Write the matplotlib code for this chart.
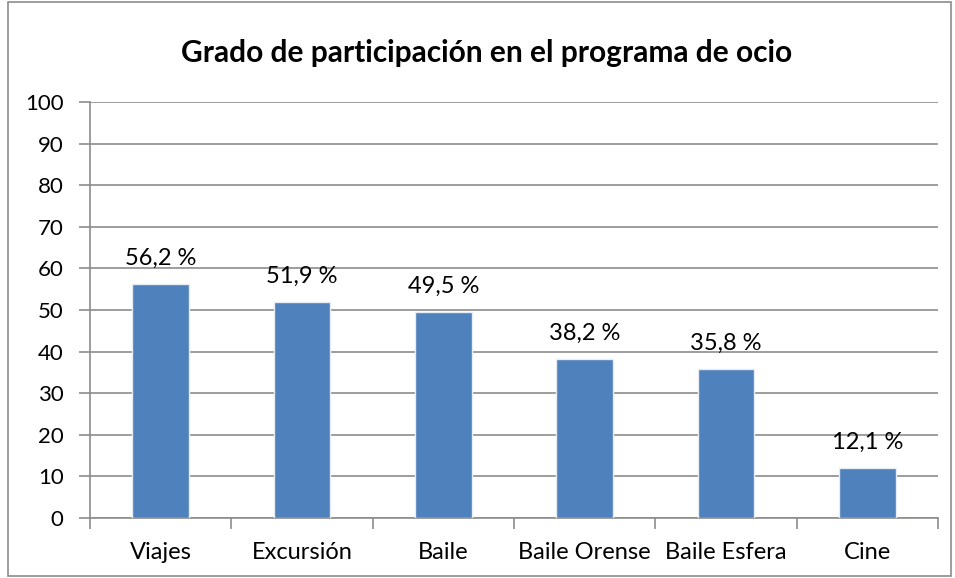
import matplotlib
matplotlib.use("Agg")
import matplotlib.pyplot as plt
from matplotlib.patches import Rectangle

categories = ["Viajes", "Excursión", "Baile", "Baile Orense", "Baile Esfera", "Cine"]
values = [56.2, 51.9, 49.5, 38.2, 35.8, 12.1]
labels = ["56,2 %", "51,9 %", "49,5 %", "38,2 %", "35,8 %", "12,1 %"]
yticks = list(range(0, 101, 10))

plt.rcParams['font.family'] = ['Lato', 'DejaVu Sans']

fig = plt.figure(figsize=(9.55, 5.78), dpi=100)
ax = fig.add_axes([0.0942, 0.1038, 0.888, 0.7197])

grid_c = "#8c8c8c"
x = list(range(len(categories)))
ax.bar(x, values, width=0.4, color="#4F81BD", edgecolor="#e6ecf4", linewidth=1.0, zorder=3)
for xi, v, lab in zip(x, values, labels):
    ax.annotate(lab, (xi, v), xytext=(0, 11), textcoords="offset points",
                ha="center", va="bottom", fontsize=17, color="#000000")

ax.set_xlim(-0.5, len(categories) - 0.5)
ax.set_ylim(0, 100)
ax.set_yticks(yticks)
ax.set_yticklabels([str(t) for t in yticks], fontsize=16)
ax.set_xticks(x)
ax.set_xticklabels(categories, fontsize=17)
ax.tick_params(axis="x", length=0, pad=17)
ax.set_xticks([i - 0.5 for i in range(len(categories) + 1)], minor=True)
ax.tick_params(axis="x", which="minor", length=8, color=grid_c, width=1.2, direction="out")
ax.tick_params(axis="y", length=8, color=grid_c, width=1.2, direction="out", pad=11)
ax.yaxis.grid(True, color=grid_c, linewidth=1.2, zorder=0)
ax.set_axisbelow(True)
for s in ["top", "right"]:
    ax.spines[s].set_visible(False)
for s in ["left", "bottom"]:
    ax.spines[s].set_color(grid_c)
    ax.spines[s].set_linewidth(1.2)

fig.text(0.51, 0.908, "Grado de participación en el programa de ocio",
         ha="center", va="center", fontsize=21.5, fontweight="bold")

fig.patches.append(Rectangle((0.008, 0.003), 0.988, 0.994, transform=fig.transFigure,
                             fill=False, edgecolor="#8c8c8c", linewidth=1.2))

fig.savefig("out.png", dpi=100)
